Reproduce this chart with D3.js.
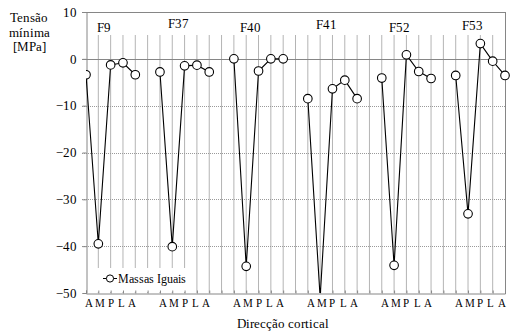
<!DOCTYPE html>
<html>
<head>
<meta charset="utf-8">
<script src="https://cdn.jsdelivr.net/npm/d3@7"></script>
<style>
  @font-face { font-family: 'ChartSerif'; src: local('Liberation Serif'), local('LiberationSerif'), local('Liberation Serif Regular'); }
  body { margin: 0; background: #fff; }
  #chart text { font-family: 'ChartSerif', 'Liberation Serif', 'Times New Roman', serif; }
</style>
</head>
<body>
<div id="chart"></div>
<script>
  // data
  const groups = ["F9", "F37", "F40", "F41", "F52", "F53"];
  const directions = ["A", "M", "P", "L", "A"];
  const f9 = [-3.4, -39.5, -1.3, -0.85, -3.4];
  const f37 = [-2.8, -40.1, -1.5, -1.35, -2.8];
  const f40 = [0, -44.3, -2.6, 0, 0];
  const f41 = [-8.5, -51, -6.4, -4.55, -8.5];
  const f52 = [-4.1, -44.1, 0.85, -2.7, -4.2];
  const f53 = [-3.55, -33.1, 3.25, -0.5, -3.55];
  const series = [f9, f37, f40, f41, f52, f53];
  const yTicks = [10, 0, -10, -20, -30, -40, -50];

  const msm = {
    width: 513,
    height: 333,
    left: 86,
    right: 505,
    top: 12,
    bottom: 293
  }

  // small nudges of the hand-placed group captions
  const labelNudge = [[0, 2], [0, -2], [-2, 2], [0, -1], [-1, 2], [-2, 0]];

  const slotsPerGroup = directions.length + 1;
  const nSlots = groups.length * slotsPerGroup - 1;

  const svg = d3.select('#chart')
    .append('svg')
    .attr('width', msm.width)
    .attr('height', msm.height);

  const x = d3.scaleLinear()
    .domain([0, nSlots - 1])
    .range([msm.left, msm.right]);

  const y = d3.scaleLinear()
    .domain([-50, 10])
    .range([msm.bottom, msm.top]);

  const axisCol = '#868686';

  function label(sel, size) {
    return sel
      .attr('font-family', 'Liberation Serif')
      .attr('font-size', size)
      .style('font-size', size + 'px')
      .attr('fill', '#000');
  }

  // vertical grid, one line per slot
  svg.selectAll('line.vgrid')
    .data(d3.range(1, nSlots - 1))
    .enter()
    .append('line')
      .attr('class', 'vgrid')
      .attr('x1', (d) => x(d))
      .attr('x2', (d) => x(d))
      .attr('y1', 35)
      .attr('y2', msm.bottom)
      .attr('stroke', '#b4b4b4')
      .attr('stroke-width', 1);

  // horizontal dotted grid
  svg.selectAll('line.hgrid')
    .data([-10, -20, -30, -40])
    .enter()
    .append('line')
      .attr('class', 'hgrid')
      .attr('x1', msm.left - 4)
      .attr('x2', msm.right)
      .attr('y1', (d) => Math.round(y(d)) + 0.5)
      .attr('y2', (d) => Math.round(y(d)) + 0.5)
      .attr('stroke', '#9a9a9a')
      .attr('stroke-dasharray', '1,1');

  // zero line and frame
  svg.selectAll('line.frame')
    .data([0, 10])
    .enter()
    .append('line')
      .attr('class', 'frame')
      .attr('x1', msm.left - 4).attr('x2', msm.right)
      .attr('y1', (d) => Math.round(y(d)) + 0.5).attr('y2', (d) => Math.round(y(d)) + 0.5)
      .attr('stroke', axisCol);
  svg.append('line')
    .attr('x1', msm.right + 0.5).attr('x2', msm.right + 0.5)
    .attr('y1', y(10)).attr('y2', msm.bottom)
    .attr('stroke', axisCol);

  // legend box hides the grid behind it
  svg.append('rect')
    .attr('x', msm.left + 1)
    .attr('y', 268)
    .attr('width', 108)
    .attr('height', msm.bottom - 268 - 1)
    .attr('fill', '#fff');

  // y axis
  const yAxis = d3.axisLeft(y).tickValues(yTicks).tickSize(4).tickFormat(d3.format('d'));
  svg.append('g')
    .attr('transform', 'translate(86.5,0)')
    .call(yAxis)
    .call((g) => {
      g.attr('font-family', 'Liberation Serif').attr('font-size', 13);
      g.select('.domain').attr('stroke', axisCol);
      g.selectAll('.tick line').attr('stroke', axisCol);
      label(g.selectAll('.tick text'), 13).attr('x', -10);
    });

  // x axis with inward minor ticks
  const xAxis = d3.axisBottom(x).tickValues(d3.range(0, nSlots)).tickSize(-3).tickFormat('');
  svg.append('g')
    .attr('transform', 'translate(0,' + (msm.bottom + 0.5) + ')')
    .call(xAxis)
    .call((g) => {
      g.select('.domain').attr('stroke', axisCol);
      g.selectAll('.tick line').attr('stroke', axisCol);
    });

  // category letters under each group
  groups.forEach((gName, g) => {
    let start = g * slotsPerGroup;
    let mid = x(start + 2);
    label(svg.selectAll('text.cat' + g)
      .data(directions)
      .enter()
      .append('text')
        .attr('class', 'cat' + g)
        .attr('x', (d, i) => mid + (x(start + i) - mid) * 0.86)
        .attr('y', 307)
        .attr('text-anchor', 'middle')
        .text((d) => d), 10.5);
  });

  // plot lines and markers, clipped to the plot area
  svg.append('clipPath')
    .attr('id', 'plotClip')
    .append('rect')
      .attr('x', msm.left)
      .attr('y', msm.top)
      .attr('width', msm.right - msm.left + 6)
      .attr('height', msm.bottom - msm.top);

  const plot = svg.append('g').attr('clip-path', 'url(#plotClip)');

  const line = d3.line()
    .x((d) => x(d.slot))
    .y((d) => y(d.value));

  series.forEach((vals, g) => {
    let pts = vals.map((v, i) => ({slot: g * slotsPerGroup + i, value: v}));
    plot.append('path')
      .datum(pts)
      .attr('fill', 'none')
      .attr('stroke', '#000')
      .attr('stroke-width', 1.1)
      .attr('d', line);
    plot.selectAll('.dot' + g)
      .data(pts.filter((p) => p.value >= -50))
      .enter()
      .append('circle')
        .attr('cx', (d) => x(d.slot))
        .attr('cy', (d) => y(d.value))
        .attr('r', 4.3)
        .attr('fill', '#fff')
        .attr('stroke', '#000')
        .attr('stroke-width', 1.1);
  });

  // group captions
  label(svg.selectAll('text.grp')
    .data(groups)
    .enter()
    .append('text')
      .attr('class', 'grp')
      .attr('x', (d, i) => x(i * slotsPerGroup + 1.5) + labelNudge[i][0])
      .attr('y', (d, i) => 30 + labelNudge[i][1])
      .attr('text-anchor', 'middle')
      .text((d) => d), 13);

  // legend
  svg.append('line')
    .attr('x1', 103).attr('x2', 117)
    .attr('y1', 278.5).attr('y2', 278.5)
    .attr('stroke', '#000');
  svg.append('circle')
    .attr('cx', 110).attr('cy', 278.5).attr('r', 3.6)
    .attr('fill', '#fff').attr('stroke', '#000');
  label(svg.append('text')
    .attr('x', 118).attr('y', 282.5)
    .text('Massas Iguais'), 11.5);

  // axis titles
  label(svg.selectAll('text.ytitle')
    .data(['Tensão', 'mínima', '[MPa]'])
    .enter()
    .append('text')
      .attr('class', 'ytitle')
      .attr('x', 29)
      .attr('y', (d, i) => 22 + i * 14.5)
      .attr('text-anchor', 'middle')
      .text((d) => d), 12.5);

  label(svg.append('text')
    .attr('x', 283)
    .attr('y', 328)
    .attr('text-anchor', 'middle')
    .text('Direcção cortical'), 12.5);
</script>
</body>
</html>
